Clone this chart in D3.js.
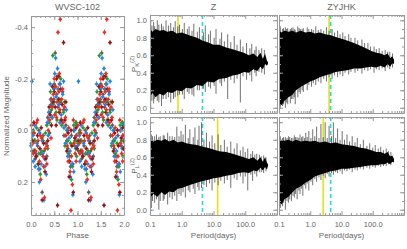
<!DOCTYPE html>
<html>
<head>
<meta charset="utf-8">
<script src="https://cdn.jsdelivr.net/npm/d3@7"></script>
<style>
	html, body { margin: 0; padding: 0; background: #fff; }
	svg text { font-family: "Liberation Sans", "DejaVu Sans", sans-serif; fill: #666; }
</style>
</head>
<body>
<svg id="chart" width="407" height="249"></svg>
<script>
// light curve, phase 0..1 (drawn twice), [phase, normalized mag]
var redPts = [[0.01,-0.02],[0.04,0.05],[0.07,0.01],[0.10,0.08],[0.12,-0.03],[0.15,0.04],[0.18,0.12],[0.21,0.19],
	[0.23,0.03],[0.26,0.10],[0.29,0.26],[0.31,0.07],[0.34,0.13],[0.37,0.00],[0.40,-0.04],[0.43,0.03],[0.46,-0.09],
	[0.48,-0.14],[0.51,-0.06],[0.53,-0.17],[0.56,-0.11],[0.58,-0.38],[0.60,-0.15],[0.62,-0.08],[0.63,-0.43],
	[0.66,-0.12],[0.69,-0.03],[0.72,-0.09],[0.75,0.02],[0.78,0.06],[0.81,-0.01],[0.84,0.16],[0.86,0.31],[0.87,0.10],
	[0.89,0.21],[0.92,0.05],[0.95,0.09],[0.98,0.02],[0.05,0.09],[0.14,-0.04],[0.20,0.02],[0.27,0.14],[0.35,0.06],
	[0.44,-0.12],[0.50,-0.20],[0.55,-0.05],[0.61,-0.22],[0.68,-0.16],[0.74,-0.05],[0.80,0.12],[0.91,-0.04],[0.97,0.12]];
var darkRedPts = [[0.03,0.04],[0.06,-0.03],[0.11,0.10],[0.14,0.02],[0.19,0.07],[0.24,0.27],[0.27,0.05],[0.32,0.11],
	[0.36,0.04],[0.41,-0.06],[0.44,-0.02],[0.47,-0.11],[0.50,-0.15],[0.52,-0.09],[0.55,-0.20],[0.57,0.29],[0.59,-0.12],
	[0.61,-0.07],[0.64,-0.16],[0.67,-0.10],[0.70,-0.34],[0.73,-0.04],[0.77,0.08],[0.80,0.01],[0.83,0.12],[0.88,0.06],
	[0.91,0.24],[0.94,0.03],[0.97,-0.01],[0.08,0.08],[0.16,0.13],[0.22,-0.01],[0.30,0.16],[0.39,-0.09],[0.46,-0.17],
	[0.54,-0.02],[0.60,-0.21],[0.66,-0.04],[0.75,-0.11],[0.82,0.18],[0.86,0.00],[0.99,0.07]];
var bluePts = [[0.00,0.06],[0.02,-0.19],[0.05,0.12],[0.08,-0.02],[0.09,0.14],[0.13,0.05],[0.16,0.15],[0.19,0.01],
	[0.22,0.13],[0.25,0.09],[0.28,0.27],[0.30,0.14],[0.33,0.17],[0.35,-0.03],[0.38,-0.07],[0.42,-0.12],[0.45,-0.05],
	[0.49,-0.16],[0.51,-0.22],[0.54,-0.13],[0.57,-0.24],[0.60,-0.10],[0.63,-0.18],[0.65,-0.06],[0.68,-0.14],[0.71,-0.01],
	[0.74,0.05],[0.76,-0.08],[0.79,0.10],[0.82,0.03],[0.85,0.18],[0.88,0.13],[0.90,0.25],[0.93,0.00],[0.96,0.07],[0.99,-0.02],
	[0.04,0.02],[0.11,0.09],[0.18,0.20],[0.24,0.04],[0.29,0.11],[0.37,0.02],[0.41,-0.18],[0.47,-0.10],[0.53,-0.28],
	[0.59,-0.16],[0.62,-0.03],[0.70,-0.19],[0.78,0.00],[0.84,0.08],[0.92,0.16],[0.97,0.02]];
var greenPts = [[0.03,0.01],[0.06,0.08],[0.12,-0.01],[0.17,0.09],[0.20,0.17],[0.26,0.04],[0.31,0.01],[0.36,0.07],
	[0.39,-0.03],[0.44,-0.08],[0.47,-0.29],[0.50,-0.11],[0.54,-0.07],[0.58,-0.16],[0.62,-0.12],[0.66,-0.02],[0.70,-0.07],
	[0.73,0.06],[0.77,0.00],[0.81,0.09],[0.85,0.05],[0.89,0.14],[0.92,-0.02],[0.95,0.04],[0.98,0.10],[0.01,0.05],
	[0.09,0.04],[0.15,0.13],[0.23,0.08],[0.34,-0.02],[0.42,-0.15],[0.52,-0.17],[0.56,-0.04],[0.64,-0.20],[0.72,-0.11],
	[0.79,0.04],[0.87,0.19],[0.96,-0.03]];
var grayPts = [[0.02,0.08],[0.05,0.00],[0.09,0.11],[0.14,0.06],[0.17,0.00],[0.21,0.09],[0.24,0.24],[0.28,0.08],
	[0.32,0.05],[0.36,-0.05],[0.40,0.01],[0.43,-0.10],[0.46,-0.05],[0.49,-0.12],[0.52,-0.30],[0.55,-0.14],[0.58,-0.09],
	[0.61,-0.18],[0.64,-0.04],[0.68,-0.15],[0.71,0.02],[0.75,-0.02],[0.79,0.07],[0.83,0.10],[0.87,0.02],[0.90,0.13],
	[0.94,0.06],[0.97,-0.03],[0.07,0.04],[0.12,0.10],[0.19,0.15],[0.26,0.02],[0.34,0.10],[0.41,-0.07],[0.50,-0.18],
	[0.56,-0.21],[0.63,-0.11],[0.70,-0.08],[0.77,0.04],[0.85,0.14],[0.92,0.00],[0.99,0.04]];
var magErr = 0.01;

var phaseTicks = [0, 0.5, 1, 1.5, 2];
var magTicks = [-0.4, -0.2, 0.0, 0.2];
var powTicks = [0, 0.2, 0.4, 0.6, 0.8, 1.0];
var periodTicks = [0.1, 1, 10, 100];

// periodograms: dense band [period, lo, hi] and stray peaks [period, lo, hi]
var zkEnv = [[0.1,0.13,0.9],[0.12,0.17,0.87],[0.15,0.12,0.9],[0.2,0.16,0.88],[0.27,0.14,0.89],[0.35,0.18,0.87],
	[0.5,0.17,0.88],[0.7,0.2,0.85],[1.0,0.19,0.86],[1.4,0.23,0.84],[2.0,0.22,0.82],[3.0,0.26,0.8],[4.5,0.25,0.77],
	[6.5,0.3,0.75],[10,0.29,0.72],[15,0.33,0.72],[25,0.34,0.69],[40,0.37,0.67],[60,0.38,0.65],[90,0.41,0.63],
	[130,0.4,0.6],[180,0.44,0.62],[240,0.42,0.58],[300,0.47,0.63],[360,0.44,0.56],[420,0.5,0.62],[480,0.48,0.54],[520,0.5,0.52]];
var zkSpk = [[0.105,0.0,1.0],[0.13,0.05,0.98],[0.17,0.08,1.0],[0.23,0.02,0.96],[0.32,0.1,1.0],[0.45,0.06,0.97],
	[0.62,0.12,0.99],[0.85,0.15,0.95],[1.2,0.1,0.97],[1.7,0.16,0.93],[2.4,0.13,0.96],[3.6,0.2,0.92],[5.5,0.18,0.94],
	[8,0.22,0.88],[12,0.16,0.9],[18,0.25,0.86],[28,0.1,0.84],[45,0.28,0.82],[70,0.06,0.78],[110,0.32,0.74],
	[160,0.3,0.73],[220,0.36,0.7],[330,0.4,0.68],[400,0.38,0.66],
	[0.115,0.08,0.94],[0.14,0.1,0.93],[0.19,0.06,0.95],[0.26,0.1,0.93],[0.38,0.12,0.94],[0.55,0.1,0.92],[0.75,0.14,0.93],
	[1.05,0.15,0.9],[1.5,0.18,0.9],[2.1,0.15,0.88],[3.1,0.2,0.87],[4.8,0.22,0.86],[7,0.24,0.84],[10.5,0.25,0.8],
	[16,0.28,0.79],[22,0.3,0.76],[35,0.32,0.75],[55,0.33,0.72],[85,0.36,0.7],[140,0.37,0.68],[200,0.4,0.66],[270,0.41,0.66]];
var zlEnv = [[0.1,0.14,0.8],[0.13,0.18,0.78],[0.17,0.15,0.8],[0.23,0.2,0.79],[0.3,0.17,0.81],[0.4,0.21,0.78],
	[0.55,0.2,0.8],[0.75,0.24,0.77],[1.0,0.25,0.78],[1.4,0.27,0.76],[2.0,0.29,0.75],[3.0,0.31,0.74],[4.5,0.33,0.72],
	[6.5,0.34,0.71],[10,0.36,0.69],[15,0.37,0.67],[25,0.39,0.66],[40,0.4,0.64],[60,0.42,0.62],[90,0.43,0.6],
	[130,0.42,0.58],[180,0.45,0.6],[240,0.44,0.56],[300,0.48,0.6],[360,0.45,0.55],[420,0.49,0.6],[480,0.46,0.54],[520,0.5,0.52]];
var zlSpk = [[0.11,0.02,0.86],[0.14,0.08,0.84],[0.19,0.0,0.83],[0.26,0.1,0.85],[0.36,0.06,0.88],[0.5,0.12,0.84],
	[0.7,0.1,0.95],[0.95,0.16,0.9],[1.3,0.14,0.97],[1.8,0.2,0.92],[2.6,0.18,0.94],[3.5,0.22,0.96],[4.2,0.25,1.0],
	[6,0.26,0.88],[9,0.22,0.85],[14,0.28,0.86],[22,0.3,0.8],[35,0.25,0.78],[55,0.34,0.76],[85,0.3,0.72],
	[120,0.22,0.7],[170,0.33,0.67],[230,0.38,0.64],[320,0.43,0.61],[380,0.42,0.62],[450,0.44,0.6],
	[0.12,0.1,0.84],[0.16,0.12,0.86],[0.21,0.1,0.84],[0.28,0.12,0.85],[0.42,0.14,0.84],[0.6,0.16,0.83],[0.82,0.18,0.84],
	[1.1,0.2,0.86],[1.6,0.22,0.82],[2.3,0.24,0.83],[3.2,0.26,0.8],[5,0.28,0.8],[7.5,0.3,0.78],[11,0.31,0.76],
	[17,0.33,0.74],[27,0.34,0.72],[45,0.36,0.7],[70,0.38,0.68],[100,0.38,0.66],[150,0.4,0.64],[200,0.41,0.63],[280,0.43,0.63]];
var ykEnv = [[0.1,0.06,0.88],[0.12,0.03,0.86],[0.15,0.08,0.88],[0.2,0.12,0.87],[0.27,0.15,0.88],[0.35,0.2,0.86],
	[0.5,0.24,0.88],[0.7,0.27,0.86],[1.0,0.3,0.87],[1.4,0.32,0.85],[2.0,0.35,0.86],[3.0,0.37,0.84],[4.5,0.39,0.83],
	[6.5,0.41,0.81],[10,0.42,0.79],[15,0.43,0.77],[25,0.45,0.74],[40,0.45,0.71],[60,0.46,0.68],[90,0.47,0.65],
	[130,0.46,0.63],[180,0.48,0.62],[240,0.46,0.6],[300,0.5,0.62],[360,0.47,0.57],[420,0.51,0.59],[480,0.5,0.55]];
var ykSpk = [[0.11,0.0,0.93],[0.13,0.02,0.9],[0.16,0.0,0.92],[0.19,0.04,0.91],[0.23,0.05,0.9],[0.28,0.1,0.92],
	[0.33,0.04,0.89],[0.4,0.12,0.93],[0.48,0.16,0.9],[0.6,0.18,0.91],[0.8,0.2,0.92],[1.1,0.24,0.9],[1.5,0.26,0.93],
	[2.2,0.28,0.9],[3.3,0.3,0.92],[5,0.33,0.9],[7.5,0.35,0.88],[11,0.36,0.86],[17,0.38,0.84],[27,0.4,0.8],
	[45,0.39,0.78],[70,0.42,0.74],[110,0.4,0.7],[160,0.43,0.68],[250,0.42,0.66],[350,0.44,0.64],[430,0.46,0.62],
	[0.105,0.02,0.9],[0.14,0.04,0.91],[0.175,0.06,0.9],[0.25,0.1,0.91],[0.31,0.12,0.9],[0.44,0.18,0.91],[0.55,0.2,0.9],
	[0.9,0.26,0.9],[1.25,0.28,0.89],[1.8,0.3,0.89],[2.7,0.33,0.88],[4.0,0.35,0.88],[6,0.37,0.86],[9,0.38,0.84],
	[13,0.4,0.82],[20,0.41,0.8],[33,0.42,0.77],[55,0.43,0.74],[85,0.44,0.7],[130,0.44,0.67],[200,0.45,0.65],[300,0.46,0.64]];
var ylEnv = [[0.1,0.1,0.78],[0.12,0.06,0.8],[0.15,0.12,0.79],[0.2,0.15,0.8],[0.27,0.2,0.78],[0.35,0.24,0.8],
	[0.5,0.27,0.78],[0.7,0.31,0.79],[1.0,0.34,0.78],[1.4,0.38,0.79],[2.0,0.4,0.77],[3.0,0.42,0.78],[4.5,0.44,0.76],
	[6.5,0.45,0.77],[10,0.47,0.75],[15,0.47,0.74],[25,0.48,0.73],[40,0.49,0.71],[60,0.5,0.7],[90,0.51,0.68],
	[130,0.51,0.66],[180,0.52,0.66],[240,0.52,0.64],[300,0.54,0.66],[360,0.52,0.61],[420,0.55,0.62],[480,0.54,0.58]];
var ylSpk = [[0.11,0.02,0.84],[0.13,0.04,0.82],[0.16,0.0,0.83],[0.2,0.08,0.84],[0.25,0.1,0.82],[0.31,0.14,0.85],
	[0.38,0.12,0.83],[0.47,0.18,0.86],[0.58,0.16,0.84],[0.72,0.24,0.88],[0.9,0.22,0.9],[1.2,0.28,0.92],[1.6,0.32,0.95],
	[2.2,0.34,0.98],[3.0,0.36,1.0],[4.0,0.38,0.96],[5.5,0.4,1.0],[7.5,0.42,0.93],[10.5,0.41,0.9],[15,0.44,0.86],
	[22,0.43,0.84],[32,0.45,0.82],[50,0.46,0.8],[80,0.47,0.76],[120,0.48,0.74],[180,0.49,0.72],[270,0.5,0.7],[380,0.51,0.66],
	[0.105,0.04,0.82],[0.14,0.08,0.83],[0.18,0.1,0.82],[0.22,0.12,0.83],[0.28,0.16,0.82],[0.34,0.18,0.83],[0.43,0.22,0.82],
	[0.53,0.24,0.83],[0.65,0.28,0.82],[0.8,0.3,0.83],[1.05,0.32,0.82],[1.4,0.35,0.84],[1.9,0.37,0.82],[2.6,0.39,0.83],
	[3.5,0.41,0.82],[4.8,0.42,0.84],[6.5,0.43,0.82],[9,0.44,0.8],[12.5,0.45,0.8],[18,0.46,0.78],[27,0.46,0.77],
	[40,0.47,0.75],[65,0.48,0.73],[100,0.49,0.71],[150,0.5,0.7],[220,0.5,0.68],[320,0.52,0.67]];

// best periods found (yellow) and the catalogue period (cyan dashed)
var bestPeriod = [0.76, 13.5, 4.0, 2.6];
var truePeriod = 4.5;

var svg = d3.select("#chart");
var FRAME = "#999";

function fmt1(d) { return d.toFixed(1); }

// IDL style box: ticks point inward on all four sides
function drawBox(g, x, y, xMajor, xMinor, yMajor, yMinor, showX, showY) {
	var x0 = d3.min(x.range()), x1 = d3.max(x.range());
	var y0 = d3.min(y.range()), y1 = d3.max(y.range());
	var axes = [
		[d3.axisBottom(x), "translate(0," + y1 + ")", xMajor, xMinor, showX, 7],
		[d3.axisTop(x), "translate(0," + y0 + ")", xMajor, xMinor, false, 3],
		[d3.axisLeft(y), "translate(" + x0 + ",0)", yMajor, yMinor, showY, 3],
		[d3.axisRight(y), "translate(" + x1 + ",0)", yMajor, yMinor, false, 3]
	];
	axes.forEach(function(a) {
		var maj = g.append("g").attr("transform", a[1])
			.call(a[0].tickValues(a[2]).tickSize(-4).tickSizeOuter(0).tickPadding(a[5])
				.tickFormat(a[4] ? fmt1 : ""));
		maj.attr("font-family", null).attr("font-size", null);
		maj.selectAll("text").style("font-size", "7.5px");
		var mnr = g.append("g").attr("transform", a[1])
			.call(a[0].tickValues(a[3]).tickSize(-2).tickSizeOuter(0).tickFormat(""));
		mnr.select(".domain").remove();
	});
	g.selectAll("text").filter(function() { return this.textContent === ""; }).remove();
	g.selectAll(".domain").attr("stroke", FRAME);
	g.selectAll(".tick line").attr("stroke", FRAME);
}

//************ LEFT: PHASED LIGHT CURVE ************

var xPh = d3.scaleLinear().domain([0, 2]).range([31, 124]);
var yMag = d3.scaleLinear().domain([-0.443, 0.328]).range([16, 215]);

var series = [
	{ pts: grayPts, color: "#5e5e5e" },
	{ pts: greenPts, color: "#1f9e2c" },
	{ pts: bluePts, color: "#2382ea" },
	{ pts: darkRedPts, color: "#9c1212" },
	{ pts: redPts, color: "#ee2a1c" }
];

var lc = svg.append("g");
var errPx = Math.abs(yMag(magErr) - yMag(0));
series.forEach(function(s) {
	var both = [];
	s.pts.forEach(function(p) { both.push([p[0], p[1]]); both.push([p[0] + 1, p[1]]); });
	var m = lc.selectAll(null).data(both).enter().append("g")
		.attr("transform", function(d) { return "translate(" + xPh(d[0]) + "," + yMag(d[1]) + ")"; });
	m.append("line").attr("y1", -errPx).attr("y2", errPx).attr("stroke", s.color).attr("stroke-width", 0.9);
	m.append("line").attr("x1", -1.8).attr("x2", 1.8).attr("stroke", s.color).attr("stroke-width", 0.9);
	m.append("circle").attr("r", 1.5).attr("fill", s.color);
});

drawBox(svg.append("g"), xPh, yMag, phaseTicks, d3.range(0, 2.01, 0.1),
	magTicks, d3.range(-0.4, 0.301, 0.05), true, true);

svg.append("text").attr("x", 77.5).attr("y", 10).attr("text-anchor", "middle")
	.style("font-size", "9px").text("WVSC-102");
svg.append("text").attr("x", 77.5).attr("y", 238).attr("text-anchor", "middle")
	.style("font-size", "8px").text("Phase");
svg.append("text").attr("transform", "translate(9,116) rotate(-90)").attr("text-anchor", "middle")
	.style("font-size", "8px").text("Normalized Magnitude");

//************ PERIODOGRAMS ************

var panels = [
	{ env: zkEnv, spk: zkSpk, x0: 150, x1: 277, y0: 15, y1: 113, labels: true },
	{ env: zlEnv, spk: zlSpk, x0: 150, x1: 277, y0: 117, y1: 215, labels: true },
	{ env: ykEnv, spk: ykSpk, x0: 279, x1: 404, y0: 15, y1: 113, labels: false },
	{ env: ylEnv, spk: ylSpk, x0: 279, x1: 404, y0: 117, y1: 215, labels: false }
];

panels.forEach(function(p, i) {
	var g = svg.append("g");
	var x = d3.scaleLog().domain([0.1, 1000]).range([p.x0, p.x1]);
	var y = d3.scaleLinear().domain([-0.06, 1.06]).range([p.y1, p.y0]);

	// period markers sit under the periodogram
	g.append("line").attr("x1", x(bestPeriod[i])).attr("x2", x(bestPeriod[i]))
		.attr("y1", p.y0).attr("y2", p.y1).attr("stroke", "#e2e216").attr("stroke-width", 1.6);
	g.append("line").attr("x1", x(truePeriod)).attr("x2", x(truePeriod))
		.attr("y1", p.y0).attr("y2", p.y1).attr("stroke", "#22ddd0").attr("stroke-width", 1.6)
		.attr("stroke-dasharray", "4,3");

	g.selectAll(null).data(p.spk).enter().append("line")
		.attr("x1", function(d) { return x(d[0]); }).attr("x2", function(d) { return x(d[0]); })
		.attr("y1", function(d) { return y(d[1]); }).attr("y2", function(d) { return y(d[2]); })
		.attr("stroke", "#333").attr("stroke-width", 0.7);

	var band = d3.area()
		.x(function(d) { return x(d[0]); })
		.y0(function(d) { return y(d[1]); })
		.y1(function(d) { return y(d[2]); });
	g.append("path").datum(p.env).attr("d", band).attr("fill", "#000");

	var minors = x.ticks().filter(function(t) { return periodTicks.indexOf(t) < 0 && t !== 1000; });
	drawBox(g, x, y, periodTicks.concat([1000]), minors, powTicks, d3.range(0, 1.01, 0.1),
		p.y1 === 215, p.labels);
	// no label at the right end of the period axis
	g.selectAll("text").filter(function() { return this.textContent === "1000.0"; }).remove();
});

svg.append("text").attr("x", 213.5).attr("y", 10).attr("text-anchor", "middle")
	.style("font-size", "9px").text("Z");
svg.append("text").attr("x", 341.5).attr("y", 10).attr("text-anchor", "middle")
	.style("font-size", "9px").text("ZYJHK");
[213.5, 341.5].forEach(function(cx) {
	svg.append("text").attr("x", cx).attr("y", 238).attr("text-anchor", "middle")
		.style("font-size", "8px").text("Period(days)");
});

[["K", 64], ["L", 166]].forEach(function(l) {
	var t = svg.append("text").attr("transform", "translate(137," + l[1] + ") rotate(-90)")
		.attr("text-anchor", "middle").style("font-size", "8px");
	t.append("tspan").text("P");
	t.append("tspan").attr("dy", 2).style("font-size", "6px").text(l[0]);
	t.append("tspan").attr("dy", -5).style("font-size", "5.5px").text("(Z)");
});
</script>
</body>
</html>
